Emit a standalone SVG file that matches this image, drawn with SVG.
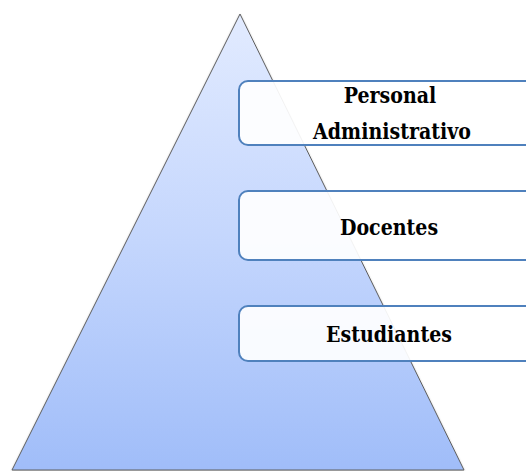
<svg xmlns="http://www.w3.org/2000/svg" width="526" height="471" viewBox="0 0 526 471">
  <defs>
    <linearGradient id="pyrFill" x1="0" y1="0" x2="0" y2="1">
      <stop offset="0" stop-color="#e2ebff"/>
      <stop offset="0.5" stop-color="#c4d6fd"/>
      <stop offset="1" stop-color="#a0bdf9"/>
    </linearGradient>
    <filter id="soft" x="-10%" y="-10%" width="120%" height="120%">
      <feGaussianBlur in="SourceAlpha" stdDeviation="1.2"/>
      <feOffset dx="0" dy="1" result="b"/>
      <feFlood flood-color="#000" flood-opacity="0.25"/>
      <feComposite in2="b" operator="in"/>
      <feMerge><feMergeNode/><feMergeNode in="SourceGraphic"/></feMerge>
    </filter>
  </defs>
  <style>
    .level { fill: #ffffff; fill-opacity: 0.92; stroke: #4f81bd; stroke-width: 2; }
    .label { font-family: "DejaVu Serif", "Liberation Serif", serif; font-weight: bold; font-size: 19px; fill: #000; text-anchor: middle; }
  </style>

  <g id="pyramid">
    <polygon points="240,14 464,470 12,470" fill="url(#pyrFill)" stroke="#5f5f5f" stroke-width="1" filter="url(#soft)"/>
  </g>

  <g id="connectors"></g>

  <g id="admin">
    <rect class="level" x="239" y="81" width="300" height="64" rx="9"/>
    <text class="label" transform="translate(390,103) scale(1,1.15)">Personal</text>
    <text class="label" transform="translate(392,139) scale(1,1.15)">Administrativo</text>
  </g>

  <g id="docentes">
    <rect class="level" x="239" y="191" width="300" height="69" rx="9"/>
    <text class="label" transform="translate(389,235) scale(1,1.15)">Docentes</text>
  </g>

  <g id="estudiantes">
    <rect class="level" x="239" y="306" width="300" height="55" rx="9"/>
    <text class="label" transform="translate(389,342) scale(1,1.15)">Estudiantes</text>
  </g>
</svg>
